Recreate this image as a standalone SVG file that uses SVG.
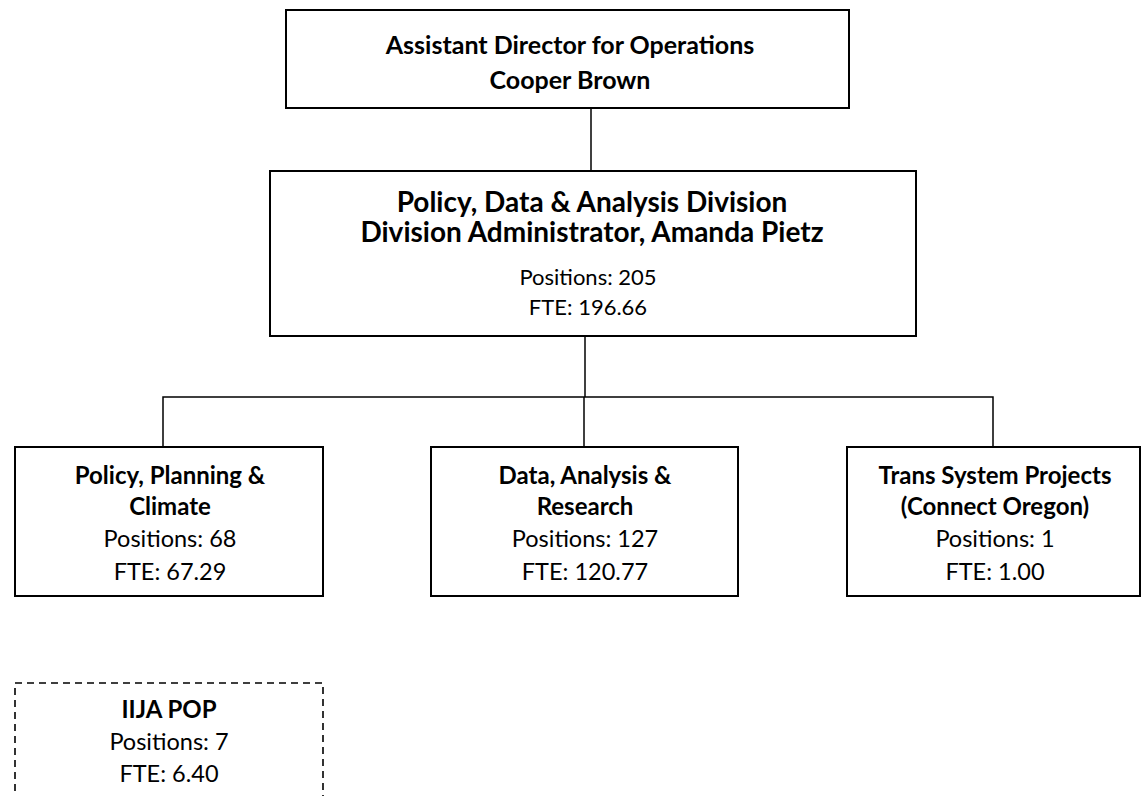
<svg xmlns="http://www.w3.org/2000/svg" width="1142" height="796" viewBox="0 0 1142 796">
  <style>
    .box { fill: #ffffff; stroke: #000000; stroke-width: 2; }
    .dash { fill: #ffffff; stroke: #000000; stroke-width: 1.6; stroke-dasharray: 7 5; }
    .wire { fill: none; stroke: #000000; stroke-width: 1.5; }
    text { font-family: Lato, "Liberation Sans", sans-serif; fill: #000000; text-anchor: middle; }
    .h1 { font-size: 25px; font-weight: bold; }
    .h2 { font-size: 28px; font-weight: bold; }
    .d2 { font-size: 22px; }
    .h3 { font-size: 24px; font-weight: bold; }
    .d3 { font-size: 23.5px; }
  </style>

  <!-- reporting lines -->
  <g id="connectors">
    <line class="wire" x1="591" y1="108" x2="591" y2="171"/>
    <line class="wire" x1="585" y1="336" x2="585" y2="397" stroke-width="2.5"/>
    <polyline class="wire" points="163,447 163,397 993,397 993,447"/>
    <line class="wire" x1="584" y1="397" x2="584" y2="447"/>
  </g>

  <g id="assistant-director">
    <rect class="box" x="286" y="10" width="563" height="98"/>
    <text class="h1" x="570" y="54">Assistant Director for Operations</text>
    <text class="h1" x="570" y="89">Cooper Brown</text>
  </g>

  <g id="pda-division">
    <rect class="box" x="270" y="171" width="646" height="165"/>
    <text class="h2" x="592" y="212">Policy, Data &amp; Analysis Division</text>
    <text class="h2" x="592" y="242">Division Administrator, Amanda Pietz</text>
    <text class="d2" x="588" y="285">Positions: 205</text>
    <text class="d2" x="588" y="315">FTE: 196.66</text>
  </g>

  <g id="policy-planning-climate">
    <rect class="box" x="15" y="447" width="308" height="149"/>
    <text class="h3" x="170" y="484">Policy, Planning &amp;</text>
    <text class="h3" x="170" y="515">Climate</text>
    <text class="d3" x="170" y="547">Positions: 68</text>
    <text class="d3" x="170" y="580">FTE: 67.29</text>
  </g>

  <g id="data-analysis-research">
    <rect class="box" x="431" y="447" width="307" height="149"/>
    <text class="h3" x="585" y="484">Data, Analysis &amp;</text>
    <text class="h3" x="585" y="515">Research</text>
    <text class="d3" x="585" y="547">Positions: 127</text>
    <text class="d3" x="585" y="580">FTE: 120.77</text>
  </g>

  <g id="trans-system-projects">
    <rect class="box" x="847" y="447" width="293" height="149"/>
    <text class="h3" x="995" y="484">Trans System Projects</text>
    <text class="h3" x="995" y="515">(Connect Oregon)</text>
    <text class="d3" x="995" y="547">Positions: 1</text>
    <text class="d3" x="995" y="580">FTE: 1.00</text>
  </g>

  <g id="iija-pop">
    <rect class="dash" x="15" y="683" width="308" height="130"/>
    <text class="h3" x="169" y="718">IIJA POP</text>
    <text class="d3" x="169" y="750">Positions: 7</text>
    <text class="d3" x="169" y="782">FTE: 6.40</text>
  </g>
</svg>
